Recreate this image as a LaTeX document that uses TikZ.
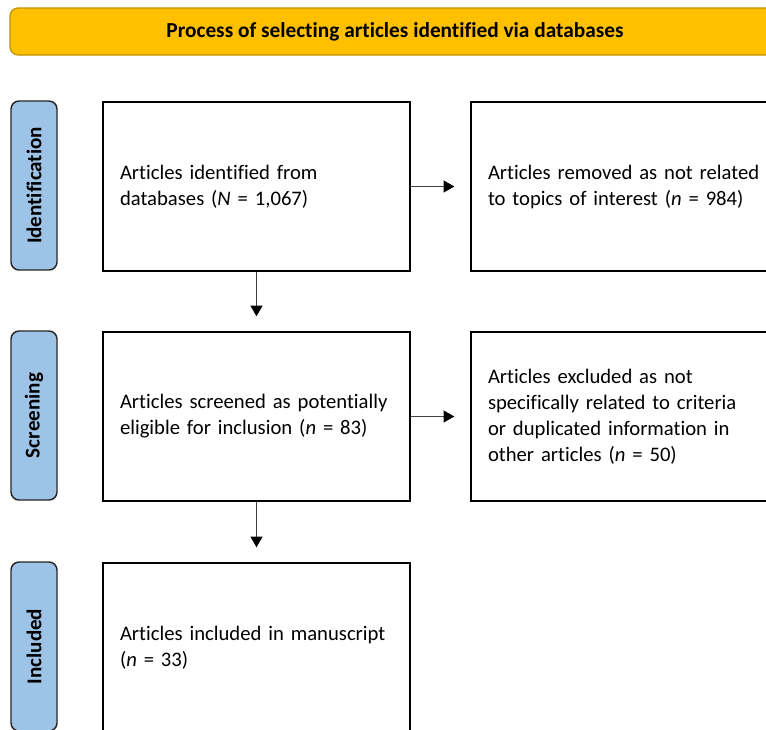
\documentclass[tikz,border=0pt]{standalone}
\usepackage{fontspec}
\setmainfont{Carlito}[Ligatures={NoCommon}]
\usetikzlibrary{arrows.meta}
\definecolor{bannerfill}{HTML}{FFC000}
\definecolor{bannerdraw}{HTML}{BF9000}
\definecolor{phasefill}{HTML}{9DC3E6}
\definecolor{phasedraw}{HTML}{262626}
\definecolor{linegray}{HTML}{404040}
\tikzset{
  box/.style={draw=black, line width=1.1pt, rectangle, align=left,
    text width=204.75pt, inner xsep=12.75pt, minimum width=230.25pt,
    minimum height=126.75pt,
    font=\fontsize{15.5pt}{19.5pt}\selectfont},
  phase/.style={draw=phasedraw, fill=phasefill, line width=1.1pt, rounded corners=6pt,
    rotate=90, minimum width=126.75pt, minimum height=34.5pt, inner sep=0pt,
    font=\bfseries\fontsize{15.8pt}{18pt}\selectfont},
  banner/.style={draw=bannerdraw, fill=bannerfill, line width=0.9pt, rounded corners=6pt,
    minimum width=577.5pt, minimum height=35.25pt, inner sep=0pt,
    font=\bfseries\fontsize{16pt}{18pt}\selectfont},
  flow/.style={draw=linegray, line width=0.8pt,
    arrows={-{Triangle[length=8pt,width=9pt,color=black]}}},
}
\begin{document}
\begin{tikzpicture}[x=0.75pt,y=-0.75pt]
\useasboundingbox (0,0) rectangle (766,729);
\clip (0,0) rectangle (766,729);
\node[banner] (title) at (395,31.5) {Process of selecting articles identified via databases};
\node[phase] (ph1) at (34,185.5) {Identification};
\node[phase] (ph2) at (34,415.5) {Screening};
\node[phase] (ph3) at (34,646.5) {Included};
\node[box] (id) at (256.5,186.5) {Articles identified from\\databases (\textit{N} = 1,067)};
\node[box] (rem) at (624.5,186.5) {Articles removed as not related\\to topics of interest (\textit{n} = 984)};
\node[box] (scr) at (256.5,416.5) {Articles screened as potentially\\eligible for inclusion (\textit{n} = 83)};
\node[box] (exc) at (624.5,416.5) {Articles excluded as not\\specifically related to criteria\\or duplicated information in\\other articles (\textit{n} = 50)};
\node[box] (inc) at (256.5,647.5) {Articles included in manuscript\\(\textit{n} = 33)};
\draw[flow, shorten >=12pt] (id) -- (rem);
\draw[flow, shorten >=12pt] (scr) -- (exc);
\draw[flow, shorten >=11.25pt] (id) -- (scr);
\draw[flow, shorten >=11.25pt] (scr) -- (inc);
\end{tikzpicture}
\end{document}
